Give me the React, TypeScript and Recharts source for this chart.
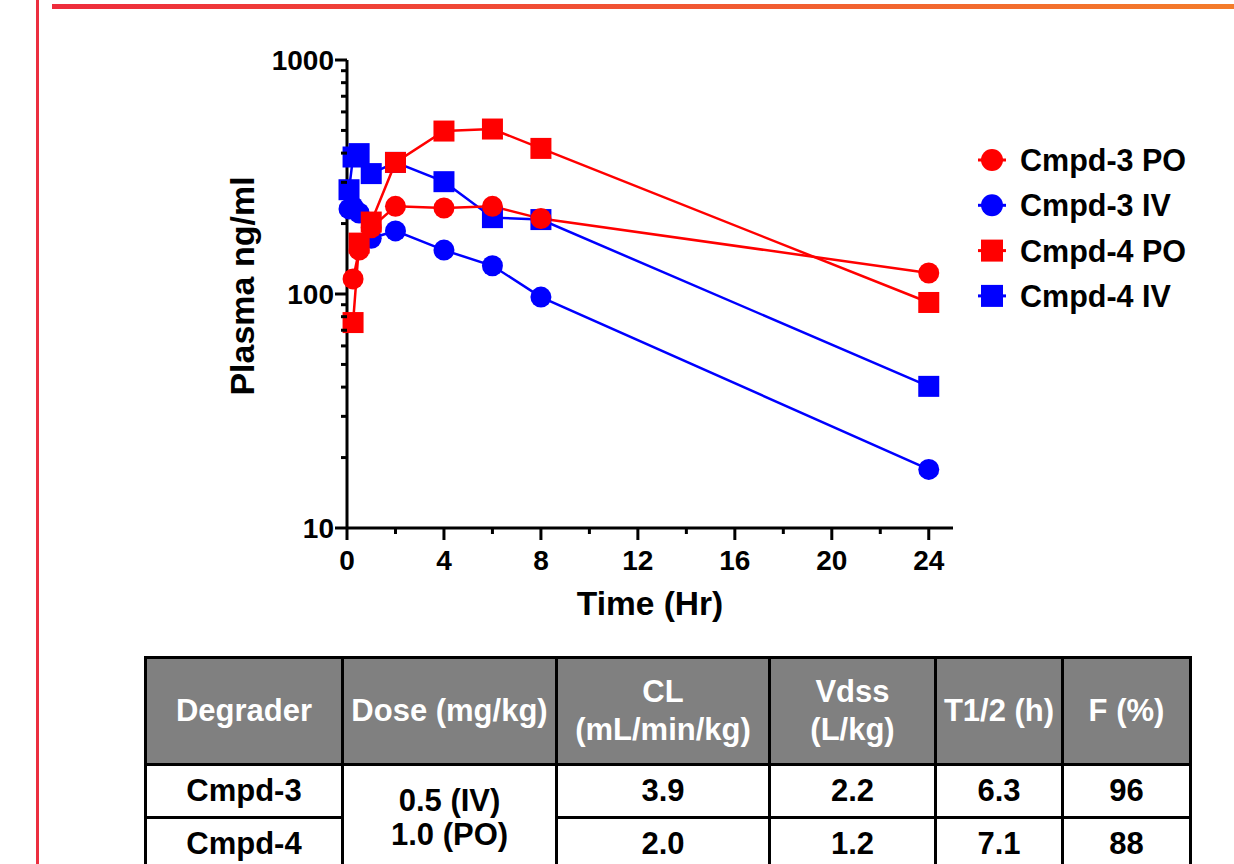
import { LineChart, Line, XAxis, YAxis } from "recharts";

const RED = "#ff0000";
const BLUE = "#0000ff";
const FONT = "'Liberation Sans', Arial, sans-serif";

// time points (hr) and plasma concentrations (ng/ml)
const c3PoTime = [0.25, 0.5, 1, 2, 4, 6, 8, 24];
const c3PoConc = [116, 154, 192, 237, 233, 237, 210, 123];

const c3IvTime = [0.083, 0.25, 0.5, 1, 2, 4, 6, 8, 24];
const c3IvConc = [231, 236, 222, 173, 186, 154, 132, 97, 17.8];

const c4PoTime = [0.25, 0.5, 1, 2, 4, 6, 8, 24];
const c4PoConc = [75.5, 165, 203, 365, 497, 507, 419, 92];

const c4IvTime = [0.083, 0.25, 0.5, 1, 2, 4, 6, 8, 24];
const c4IvConc = [279, 385, 398, 327, 365, 302, 212, 208, 40.3];

const xTicks = [0, 2, 4, 6, 8, 10, 12, 14, 16, 18, 20, 22, 24];
const xLabelled = [0, 4, 8, 12, 16, 20, 24];
const yTicks = [10, 20, 30, 40, 50, 60, 70, 80, 90, 100, 200, 300, 400, 500, 600, 700, 800, 900, 1000];
const yLabelled = [10, 100, 1000];

const tableHead = ["Degrader", "Dose (mg/kg)", "CL\n(mL/min/kg)", "Vdss\n(L/kg)", "T1/2 (h)", "F (%)"];
const compounds = ["Cmpd-3", "Cmpd-4"];
const doseText = ["0.5 (IV)", "1.0 (PO)"];
const clValues = ["3.9", "2.0"];
const vdssValues = ["2.2", "1.2"];
const halfLife = ["6.3", "7.1"];
const bioavail = ["96", "88"];

const toPoints = (ts: number[], vs: number[]) => ts.map((t, i) => ({ t, v: vs[i] }));

const series = [
  { key: "c3po", name: "Cmpd-3 PO", color: RED, shape: "circle", data: toPoints(c3PoTime, c3PoConc) },
  { key: "c3iv", name: "Cmpd-3 IV", color: BLUE, shape: "circle", data: toPoints(c3IvTime, c3IvConc) },
  { key: "c4po", name: "Cmpd-4 PO", color: RED, shape: "square", data: toPoints(c4PoTime, c4PoConc) },
  { key: "c4iv", name: "Cmpd-4 IV", color: BLUE, shape: "square", data: toPoints(c4IvTime, c4IvConc) },
];
// draw order: IV under PO
const drawOrder = ["c4iv", "c3iv", "c4po", "c3po"];

function squareDot(color: string) {
  return (props: any) => {
    const { cx, cy, index } = props;
    if (cx == null || cy == null) return <g key={index} />;
    return <rect key={index} x={cx - 10.5} y={cy - 10.5} width={21} height={21} fill={color} />;
  };
}

function YTick(props: any) {
  const { x, y, payload } = props;
  const major = yLabelled.includes(payload.value);
  return (
    <g>
      <line x1={x} x2={x - (major ? 12 : 6)} y1={y} y2={y} stroke="#000" strokeWidth={3} />
      {major && (
        <text x={x - 13} y={y + 10} textAnchor="end" fontFamily={FONT} fontWeight="bold" fontSize={28} fill="#000">
          {payload.value}
        </text>
      )}
    </g>
  );
}

function XTick(props: any) {
  const { x, y, payload } = props;
  const major = xLabelled.includes(payload.value);
  return (
    <g>
      <line x1={x} x2={x} y1={y} y2={y + (major ? 12 : 6)} stroke="#000" strokeWidth={3} />
      {major && (
        <text x={x} y={y + 42} textAnchor="middle" fontFamily={FONT} fontWeight="bold" fontSize={28} fill="#000">
          {payload.value}
        </text>
      )}
    </g>
  );
}

function LegendBox() {
  return (
    <svg width={240} height={190} style={{ position: "absolute", left: 970, top: 135 }}>
      {series.map((s, i) => {
        const cy = 25 + i * 45.3;
        return (
          <g key={s.key}>
            <line x1={8} x2={36} y1={cy} y2={cy} stroke={s.color} strokeWidth={3} />
            {s.shape === "circle" ? (
              <circle cx={22} cy={cy} r={11} fill={s.color} />
            ) : (
              <rect x={11} y={cy - 11} width={22} height={22} fill={s.color} />
            )}
            <text x={50} y={cy + 11} fontFamily={FONT} fontWeight="bold" fontSize={30.5} fill="#000">
              {s.name}
            </text>
          </g>
        );
      })}
    </svg>
  );
}

const cellBase: any = {
  border: "3px solid #000",
  textAlign: "center",
  verticalAlign: "middle",
  padding: 0,
  fontFamily: FONT,
  fontWeight: "bold",
  fontSize: 31,
};

function PkTable() {
  return (
    <table
      style={{
        position: "absolute",
        left: 144,
        top: 656,
        width: 1047,
        borderCollapse: "collapse",
        tableLayout: "fixed",
      }}
    >
      <colgroup>
        <col style={{ width: 197 }} />
        <col style={{ width: 214 }} />
        <col style={{ width: 213 }} />
        <col style={{ width: 166 }} />
        <col style={{ width: 127 }} />
        <col style={{ width: 128 }} />
      </colgroup>
      <tbody>
        <tr style={{ height: 107 }}>
          {tableHead.map((h) => (
            <td
              key={h}
              style={{ ...cellBase, background: "#808080", color: "#fff", lineHeight: "38px", whiteSpace: "pre" }}
            >
              {h}
            </td>
          ))}
        </tr>
        {compounds.map((c, i) => (
          <tr key={c} style={{ height: 53 }}>
            <td style={cellBase}>{c}</td>
            {i === 0 && (
              <td rowSpan={2} style={{ ...cellBase, lineHeight: "34px" }}>
                {doseText[0]}
                <br />
                {doseText[1]}
              </td>
            )}
            <td style={cellBase}>{clValues[i]}</td>
            <td style={cellBase}>{vdssValues[i]}</td>
            <td style={cellBase}>{halfLife[i]}</td>
            <td style={cellBase}>{bioavail[i]}</td>
          </tr>
        ))}
      </tbody>
    </table>
  );
}

export default function App() {
  return (
    <div
      style={{
        position: "fixed",
        left: 0,
        top: 0,
        width: 1234,
        height: 864,
        background: "#fff",
        overflow: "hidden",
      }}
    >
      <div style={{ position: "absolute", left: 36, top: 0, width: 3, height: 864, background: "#ec2f3f" }} />
      <div
        style={{
          position: "absolute",
          left: 52,
          top: 4,
          width: 1182,
          height: 5,
          background: "linear-gradient(to right, #ee2c3c, #f47c2a)",
        }}
      />
      <div style={{ position: "absolute", left: 0, top: 0 }}>
        <LineChart width={1234} height={661} margin={{ top: 60, right: 281, left: 0, bottom: 0 }}>
          <XAxis
            type="number"
            dataKey="t"
            domain={[0, 25]}
            ticks={xTicks}
            interval={0}
            height={133}
            tickSize={0}
            tickMargin={0}
            tickLine={false}
            tick={<XTick />}
            axisLine={{ stroke: "#000", strokeWidth: 3 }}
            label={(p: any) => {
              const vb = p.viewBox;
              return (
                <text
                  x={vb.x + vb.width / 2}
                  y={vb.y + 87}
                  textAnchor="middle"
                  fontFamily={FONT}
                  fontWeight="bold"
                  fontSize={33.5}
                  fill="#000"
                >
                  Time (Hr)
                </text>
              );
            }}
          />
          <YAxis
            type="number"
            dataKey="v"
            scale="log"
            domain={[10, 1000]}
            ticks={yTicks}
            interval={0}
            width={347}
            tickSize={0}
            tickMargin={0}
            tickLine={false}
            tick={<YTick />}
            axisLine={{ stroke: "#000", strokeWidth: 3 }}
            label={(p: any) => {
              const vb = p.viewBox;
              const x = vb.x + vb.width - 93;
              const y = vb.y + vb.height / 2 - 8;
              return (
                <text
                  x={x}
                  y={y}
                  transform={`rotate(-90 ${x} ${y})`}
                  textAnchor="middle"
                  fontFamily={FONT}
                  fontWeight="bold"
                  fontSize={34}
                  fill="#000"
                >
                  Plasma ng/ml
                </text>
              );
            }}
          />
          {drawOrder.map((k) => {
            const s = series.find((x) => x.key === k)!;
            return (
              <Line
                key={s.key}
                data={s.data}
                dataKey="v"
                name={s.name}
                type="linear"
                stroke={s.color}
                strokeWidth={2.5}
                dot={s.shape === "square" ? squareDot(s.color) : { r: 10.5, fill: s.color, stroke: s.color, strokeWidth: 0 }}
                activeDot={false}
                legendType={s.shape === "square" ? "square" : "circle"}
                isAnimationActive={false}
              />
            );
          })}
        </LineChart>
      </div>
      <LegendBox />
      <PkTable />
    </div>
  );
}
